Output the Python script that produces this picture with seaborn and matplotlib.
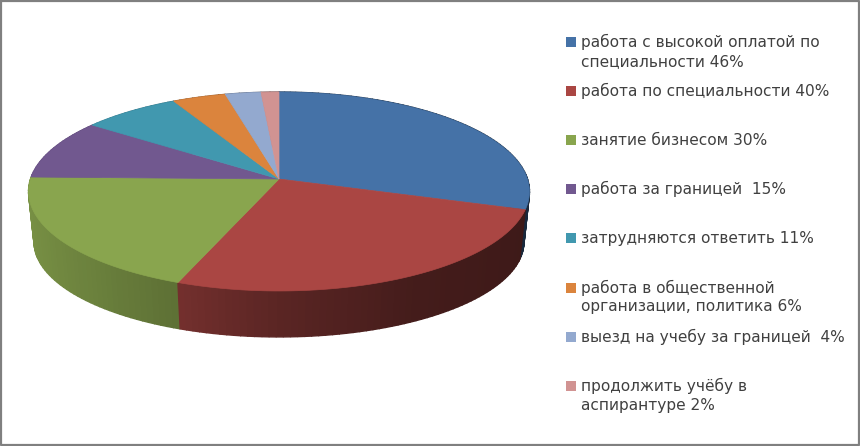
import numpy as np
import matplotlib
matplotlib.use("Agg")
import matplotlib.pyplot as plt
import seaborn as sns

# === Data ===
labels = [
    "работа с высокой оплатой по\nспециальности 46%",
    "работа по специальности 40%",
    "занятие бизнесом 30%",
    "работа за границей  15%",
    "затрудняются ответить 11%",
    "работа в общественной\nорганизации, политика 6%",
    "выезд на учебу за границей  4%",
    "продолжить учёбу в\nаспирантуре 2%",
]
values = [46, 40, 30, 15, 11, 6, 4, 2]
colors = ["#4572A7", "#AA4643", "#89A54E", "#71588F", "#4198AF", "#DB843D", "#93A9CF", "#D19392"]

sns.set_theme(style="white")
plt.rcParams["font.family"] = ["DejaVu Sans"]
palette = sns.color_palette(colors)

# whole figure is one axes in pixel units
fig = plt.figure(figsize=(8.6, 4.46), dpi=100)
ax = fig.add_axes([0, 0, 1, 1])
ax.set_xlim(0, 860)
ax.set_ylim(446, 0)
ax.axis("off")

# frame of the picture
ax.plot([1, 859, 859, 1, 1], [1, 1, 445, 445, 1], color="#808080", lw=1.6)


# perspective view of a flat disc
def project(theta, cy, bx, ay):
    k = 0.1256
    s, c = np.sin(theta), np.cos(theta)
    d = 1 + k * c
    return 279 + bx * s / d, cy - ay * c / d


edges = np.cumsum([0] + values) / sum(values) * 2 * np.pi
shade_s = [-1, -0.36, 0, 0.5, 1]
shade_f = [0.88, 0.68, 0.53, 0.40, 0.36]

# side wall, back strips first
strips = []
for i, col in enumerate(palette):
    th = np.linspace(edges[i], edges[i + 1], max(int((edges[i + 1] - edges[i]) * 40), 3))
    for a, b in zip(th[:-1], th[1:]):
        strips.append((a, b, col))
strips.sort(key=lambda t: -np.cos(t[0]))
for a, b, col in strips:
    tt = np.array([a, b])
    x1, y1 = project(tt, 179, 248.5, 97.9)
    x2, y2 = project(tt, 230, 243, 93.5)
    f = np.interp(np.sin((a + b) / 2), shade_s, shade_f)
    side = tuple(np.array(col) * f)
    ax.fill([x1[0], x1[1], x2[1], x2[0]], [y1[0], y1[1], y2[1], y2[0]],
            color=side, lw=1.0, zorder=2)

# top of the pie
for i, col in enumerate(palette):
    th = np.linspace(edges[i], edges[i + 1], 80)
    x, y = project(th, 179, 248.5, 97.9)
    ax.fill(np.r_[279, x], np.r_[179, y], color=col, lw=0.5, zorder=3)

# legend, first lines are evenly spaced
for i, (lab, col) in enumerate(zip(labels, palette)):
    y0 = 42 + i * 49.1
    ax.scatter([571], [y0], marker="s", s=62, color=[col], lw=0, zorder=4)
    first, _, second = lab.partition("\n")
    ax.text(581, y0 + 5, first, fontsize=11.1, color="#404040", va="baseline", ha="left", zorder=4)
    if second:
        ax.text(581, y0 + 24, second, fontsize=11.1, color="#404040", va="baseline", ha="left", zorder=4)

fig.savefig("out.png", dpi=100)
